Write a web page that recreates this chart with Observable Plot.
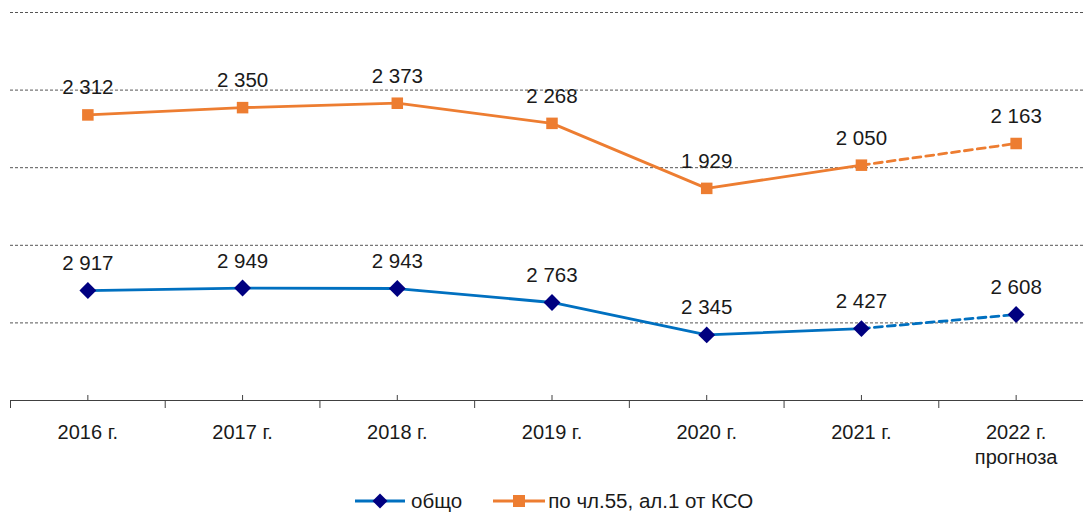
<!DOCTYPE html>
<html><head><meta charset="utf-8">
<script src="https://cdn.jsdelivr.net/npm/d3@7"></script>
<script src="https://cdn.jsdelivr.net/npm/@observablehq/plot@0.6"></script>
<style>
html,body{margin:0;padding:0;background:#fff;overflow:hidden;}
#wrap{position:relative;width:1083px;height:512px;overflow:hidden;font-family:"Liberation Sans",Arial,sans-serif;color:#1a1a1a;}
#wrap svg.plot{position:absolute;left:0;top:0;max-width:none !important;}
#legend{position:absolute;left:355px;top:489px;display:flex;align-items:center;font-size:20.5px;line-height:24px;white-space:nowrap;}
#legend .it{display:flex;align-items:center;}
</style></head><body>
<div id="wrap"><div id="legend"></div></div>
<script>
// ---- data ----
const years = ["2016 г.", "2017 г.", "2018 г.", "2019 г.", "2020 г.", "2021 г.", "2022 г.\nпрогноза"];
const total = [2917, 2949, 2943, 2763, 2345, 2427, 2608];          // общо
const art55 = [2312, 2350, 2373, 2268, 1929, 2050, 2163];          // по чл.55, ал.1 от КСО
const forecastIndex = 5;                                           // dashed from 2021 to 2022
const gridTotal = [2500, 3500, 4500, 5500, 6500];
const domainTotal = [1500, 6500];
const domainArt55 = [823, 2846];
const seriesNames = ["общо", "по чл.55, ал.1 от КСО"];

// ---- build ----
const rows = years.map((y, i) => ({i, year: y, total: total[i], art55: art55[i]}));
const solid = rows.filter(d => d.i <= forecastIndex);
const dashed = rows.filter(d => d.i >= forecastIndex);
const centers = d3.range(years.length);
const bounds = d3.range(years.length + 1).map(i => i - 0.5);
const fmt = d3.formatLocale({decimal: ",", thousands: " ", grouping: [3], currency: ["", ""]}).format(",d");

const BLUE = "#0070C0", NAVY = "#000080", ORANGE = "#ED7D31", INK = "#1a1a1a";
const FONT = "'Liberation Sans', Arial, sans-serif";

const common = {
  width: 1093, height: 480, marginTop: 12, marginBottom: 80, marginLeft: 10, marginRight: 0,
  style: {fontFamily: FONT, background: "transparent", overflow: "visible", color: INK, maxWidth: "none"},
  x: {domain: [-0.5, years.length - 0.5], axis: null}
};

const plotTotal = Plot.plot({
  ...common,
  y: {domain: domainTotal, axis: null},
  marks: [
    Plot.ruleY(gridTotal, {stroke: "#555", strokeWidth: 1, strokeDasharray: "3,2"}),
    Plot.ruleY([domainTotal[0]], {stroke: "#404040", strokeWidth: 1.2}),
    Plot.axisX(bounds, {tickSize: 8, tickFormat: () => "", stroke: "#404040", label: null}),
    Plot.axisX(centers, {tickSize: -5, tickFormat: () => "", stroke: "#404040", label: null}),
    Plot.axisX(centers, {tickSize: 0, tickPadding: 20, tickFormat: i => years[i], fontSize: 20, lineHeight: 1.27, fill: INK, label: null}),
    Plot.line(solid, {x: "i", y: "total", stroke: BLUE, strokeWidth: 2.8}),
    Plot.line(dashed, {x: "i", y: "total", stroke: BLUE, strokeWidth: 2.8, strokeDasharray: "8,5"}),
    Plot.dot(rows, {x: "i", y: "total", symbol: "diamond2", r: 7.6, fill: NAVY, stroke: "none"}),
    Plot.text(rows, {x: "i", y: "total", text: d => fmt(d.total), dy: -27, fontSize: 20.5, fill: INK})
  ]
});

const plotArt55 = Plot.plot({
  ...common,
  y: {domain: domainArt55, axis: null},
  marks: [
    Plot.line(solid, {x: "i", y: "art55", stroke: ORANGE, strokeWidth: 2.8}),
    Plot.line(dashed, {x: "i", y: "art55", stroke: ORANGE, strokeWidth: 2.8, strokeDasharray: "8,5"}),
    Plot.dot(rows, {x: "i", y: "art55", symbol: "square", r: 6.5, fill: ORANGE, stroke: "none"}),
    Plot.text(rows, {x: "i", y: "art55", text: d => fmt(d.art55), dy: -27, fontSize: 20.5, fill: INK})
  ]
});

plotTotal.classList.add("plot");
plotArt55.classList.add("plot");
const wrap = document.getElementById("wrap");
wrap.insertBefore(plotTotal, wrap.firstChild);
wrap.insertBefore(plotArt55, plotTotal.nextSibling);

// ---- legend ----
const legend = document.getElementById("legend");
legend.innerHTML = `
  <span class="it"><svg width="50" height="18"><line x1="0" y1="9" x2="50" y2="9" stroke="${BLUE}" stroke-width="3"/><path d="M25,1.5L32.5,9L25,16.5L17.5,9Z" fill="${NAVY}"/></svg><span style="margin-left:6px">${seriesNames[0]}</span></span>
  <span class="it" style="margin-left:31px"><svg width="52" height="18"><line x1="0" y1="9" x2="52" y2="9" stroke="${ORANGE}" stroke-width="3"/><rect x="20" y="3" width="12" height="12" fill="${ORANGE}"/></svg><span style="margin-left:3px">${seriesNames[1]}</span></span>`;
</script>
</body></html>
